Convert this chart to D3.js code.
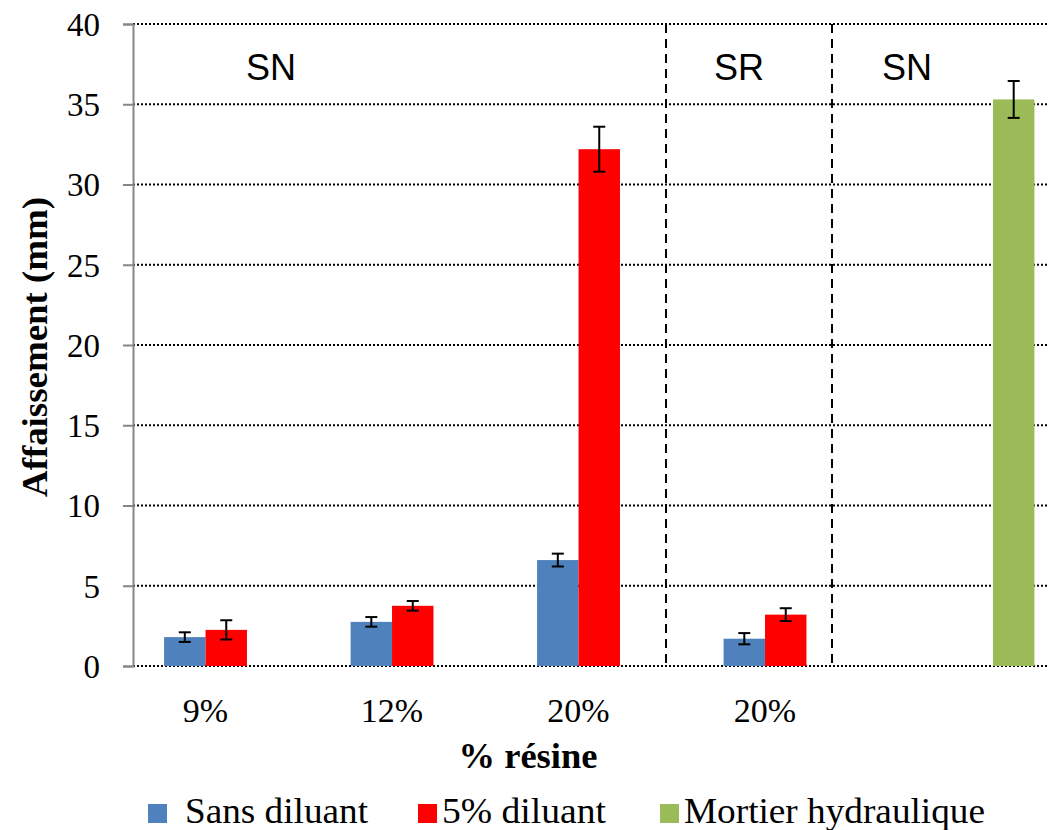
<!DOCTYPE html>
<html><head><meta charset="utf-8">
<script src="https://cdn.jsdelivr.net/npm/d3@7"></script>
</head><body>
<script>
const categories = ["9%", "12%", "20%", "20% ", ""];
const series = ["Sans diluant", "5% diluant", "Mortier hydraulique"];
const colors = ["#4F81BD", "#FF0000", "#9BBB59"];
const sansDiluant = [1.8, 2.75, 6.6, 1.7, null];
const sansDiluantErr = [0.3, 0.3, 0.4, 0.35, null];
const cinqDiluant = [2.25, 3.75, 32.2, 3.2, null];
const cinqDiluantErr = [0.6, 0.3, 1.4, 0.4, null];
const mortier = [null, null, null, null, 35.3];
const mortierErr = [null, null, null, null, 1.15];
const yTicks = [0, 5, 10, 15, 20, 25, 30, 35, 40];
const zoneLabels = [{t: "SN", pos: 0.74}, {t: "SR", pos: 3.25}, {t: "SN", pos: 4.15}];
const separators = [2.858, 3.748];

(function () {
const SERIF = "Nimbus Roman";
const SERIFB = "Liberation Serif";
const W = 1048, H = 830;
d3.select("body").style("margin", "0px");
const svg = d3.select("body").append("svg").attr("width", W).attr("height", H).style("display", "block");
const mLeft = 133, mTop = 24, mBottom = 666;
const x = d3.scaleBand().domain(categories).range([mLeft, mLeft + 932.5]).paddingInner(0).paddingOuter(0);
const inner = d3.scaleBand().domain(series).range([0, x.bandwidth()]).paddingInner(0).paddingOuter(0.75);
const y = d3.scaleLinear().domain([0, 40]).range([mBottom, mTop]);
const catPos = d3.scaleLinear().domain([0, 5]).range([mLeft, mLeft + 932.5]);

// y tick labels drawn first, directly
svg.append("g").selectAll("text").data(yTicks).join("text")
  .attr("font-family", SERIF).attr("font-size", 33)
  .attr("x", mLeft - 33).attr("y", d => y(d)).attr("dy", "0.36em").attr("text-anchor", "end")
  .text(d => d);

// gridlines
svg.append("g").selectAll("line").data(yTicks).join("line")
  .attr("x1", mLeft).attr("x2", W).attr("y1", d => y(d)).attr("y2", d => y(d))
  .attr("stroke", "#000").attr("stroke-width", 2).attr("stroke-dasharray", "2,2");

// y axis (line and ticks)
const yAxis = svg.append("g").attr("transform", `translate(${mLeft},0)`)
  .call(d3.axisLeft(y).tickValues(yTicks).tickSize(10).tickFormat(""));
yAxis.select(".domain").attr("stroke", "#868686").attr("stroke-width", 2);
yAxis.selectAll(".tick line").attr("stroke", "#868686").attr("stroke-width", 2);
yAxis.selectAll(".tick text").remove();

// separators
svg.append("g").selectAll("line").data(separators).join("line")
  .attr("x1", d => catPos(d)).attr("x2", d => catPos(d)).attr("y1", mTop).attr("y2", mBottom)
  .attr("stroke", "#000").attr("stroke-width", 2).attr("stroke-dasharray", "9,6");

// bars
const seriesData = [
  {name: series[0], vals: sansDiluant, errs: sansDiluantErr},
  {name: series[1], vals: cinqDiluant, errs: cinqDiluantErr},
  {name: series[2], vals: mortier, errs: mortierErr}
];
seriesData.forEach((s, si) => {
  const pts = categories.map((c, i) => ({c, v: s.vals[i], e: s.errs[i]})).filter(d => d.v != null);
  const g = svg.append("g");
  g.selectAll("rect").data(pts).join("rect")
    .attr("x", d => x(d.c) + inner(s.name)).attr("width", inner.bandwidth())
    .attr("y", d => y(d.v)).attr("height", d => y(0) - y(d.v)).attr("fill", colors[si]);
  const eb = g.selectAll("g.err").data(pts).join("g").attr("class", "err");
  const cx = d => x(d.c) + inner(s.name) + inner.bandwidth() / 2;
  eb.append("line").attr("x1", cx).attr("x2", cx).attr("y1", d => y(d.v + d.e)).attr("y2", d => y(d.v - d.e))
    .attr("stroke", "#000").attr("stroke-width", 2);
  [1, -1].forEach(sg => {
    eb.append("line").attr("x1", d => cx(d) - 6).attr("x2", d => cx(d) + 6)
      .attr("y1", d => y(d.v + sg * d.e)).attr("y2", d => y(d.v + sg * d.e))
      .attr("stroke", "#000").attr("stroke-width", 2);
  });
});

// x tick labels
svg.append("g").selectAll("text").data(categories).join("text")
  .attr("font-family", SERIF)
  .attr("x", d => x(d) + inner(series[0]) + inner.bandwidth()).attr("y", 722)
  .attr("text-anchor", "middle").attr("font-size", 34)
  .text(d => d.trim());

// legend
const legX = [148, 418, 660];
const legW = [183, 164, 301];
const leg = svg.append("g").selectAll("g").data(series).join("g")
  .attr("transform", (d, i) => `translate(${legX[i]},804)`);
leg.append("rect").attr("width", 19).attr("height", 19).attr("fill", (d, i) => colors[i]);
leg.append("text").attr("font-family", SERIF).attr("x", (d, i) => i === 0 ? 37 : 24).attr("y", 19)
  .attr("font-size", 35).attr("textLength", (d, i) => legW[i]).attr("lengthAdjust", "spacingAndGlyphs").text(d => d);

// axis titles
svg.append("text").attr("font-family", SERIFB).attr("x", 528).attr("y", 768).attr("text-anchor", "middle")
  .attr("font-weight", "bold").attr("font-size", 35)
  .attr("textLength", 139).attr("lengthAdjust", "spacingAndGlyphs").text("% résine");
svg.append("text").attr("font-family", SERIFB).attr("transform", `translate(47,${(197 + 497) / 2}) rotate(-90)`)
  .attr("text-anchor", "middle").attr("font-weight", "bold")
  .attr("font-size", 35).attr("textLength", 300).attr("lengthAdjust", "spacingAndGlyphs").text("Affaissement (mm)");

// zone labels (drawn last)
svg.append("g").selectAll("text").data(zoneLabels).join("text")
  .attr("x", d => catPos(d.pos)).attr("y", 80).attr("text-anchor", "middle")
  .attr("font-family", "Liberation Sans").attr("font-size", 36).text(d => d.t);
})();
</script>
</body></html>
